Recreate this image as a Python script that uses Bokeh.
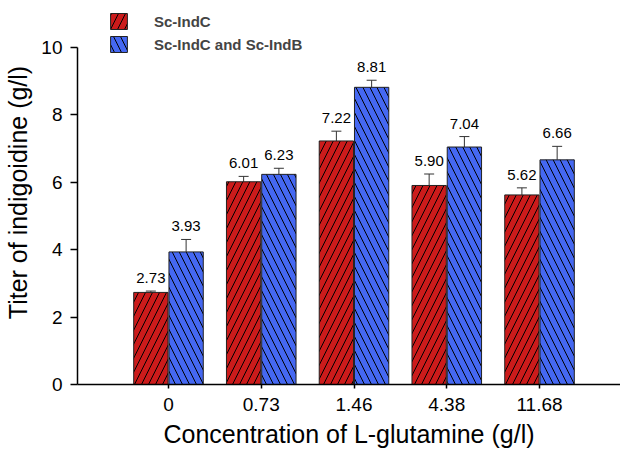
from bokeh.plotting import figure
from bokeh.models import (ColumnDataSource, Range1d, FixedTicker, Whisker, TeeHead,
                          Legend, LegendItem)
from bokeh.core.properties import value
from bokeh.embed import file_html
from bokeh.resources import INLINE

categories = ["0", "0.73", "1.46", "4.38", "11.68"]
indc = [2.73, 6.01, 7.22, 5.90, 5.62]
indc_err = [0.04, 0.16, 0.29, 0.34, 0.21]
indcb = [3.93, 6.23, 8.81, 7.04, 6.66]
indcb_err = [0.37, 0.18, 0.21, 0.31, 0.40]
y_ticks = [0, 2, 4, 6, 8, 10]

FONT = "Liberation Sans"
RED = "#cc1b1b"
BLUE = "#4568f2"

xs = list(range(len(categories)))
off = 0.19
bw = 0.37

p = figure(width=620, height=451, output_backend="svg", toolbar_location=None,
           x_range=Range1d(-0.981, 4.873), y_range=Range1d(0, 11.384),
           min_border_left=77, min_border_top=0, min_border_bottom=67, min_border_right=0)
p.outline_line_color = None
p.grid.visible = False

src1 = ColumnDataSource(dict(x=[x - off for x in xs], top=indc,
                             up=[v + e for v, e in zip(indc, indc_err)],
                             lab=["%.2f" % v for v in indc]))
src2 = ColumnDataSource(dict(x=[x + off for x in xs], top=indcb,
                             up=[v + e for v, e in zip(indcb, indcb_err)],
                             lab=["%.2f" % v for v in indcb]))

r1 = p.vbar(x="x", top="top", bottom=0, width=bw, source=src1, fill_color=RED,
            line_color="#222222", line_width=1, hatch_pattern="right_diagonal_line",
            hatch_color="black", hatch_scale=14, hatch_weight=1)
r2 = p.vbar(x="x", top="top", bottom=0, width=bw, source=src2, fill_color=BLUE,
            line_color="#222222", line_width=1, hatch_pattern="left_diagonal_line",
            hatch_color="black", hatch_scale=14, hatch_weight=1)

for src in (src1, src2):
    w = Whisker(base="x", lower="top", upper="up", source=src, dimension="height",
                line_color="#333333", line_width=1,
                upper_head=TeeHead(size=10, line_color="#333333", line_width=1),
                lower_head=None)
    p.add_layout(w)
    p.text(x="x", y="up", text="lab", source=src, text_align="center",
           text_baseline="bottom", y_offset=-8, text_font=value(FONT),
           text_font_size="15px", text_color="black")

legend = Legend(items=[LegendItem(label="Sc-IndC", renderers=[r1]),
                       LegendItem(label="Sc-IndC and Sc-IndB", renderers=[r2])],
                location=(31, 330), orientation="vertical")
legend.glyph_width = 21
legend.glyph_height = 20
legend.label_standoff = 25
legend.spacing = 3
legend.padding = 0
legend.margin = 0
legend.border_line_color = None
legend.background_fill_alpha = 0
legend.label_text_font = FONT
legend.label_text_font_style = "bold"
legend.label_text_font_size = "15px"
legend.label_height = 20
p.add_layout(legend)

xa = p.xaxis[0]
xa.ticker = FixedTicker(ticks=xs)
xa.major_label_overrides = {i: c for i, c in enumerate(categories)}
xa.axis_label = "Concentration of L-glutamine (g/l)"
ya = p.yaxis[0]
ya.ticker = FixedTicker(ticks=y_ticks)
ya.bounds = (0, 10)
ya.axis_label = "Titer of indigoidine (g/l)"

for ax in (xa, ya):
    ax.axis_line_color = "black"
    ax.axis_line_width = 1.5
    ax.major_tick_line_color = "black"
    ax.major_tick_line_width = 1.5
    ax.major_tick_in = 0
    ax.minor_tick_line_color = None
    ax.major_label_text_font = FONT
    ax.major_label_text_font_size = "19px"
    ax.major_label_text_color = "black"
    ax.axis_label_text_font = FONT
    ax.axis_label_text_font_size = "25px"
    ax.axis_label_text_font_style = "normal"
    ax.axis_label_text_color = "black"

xa.major_tick_out = 4
xa.major_label_standoff = 9
xa.axis_label_standoff = 6
ya.major_tick_out = 7
ya.major_label_standoff = 8
ya.axis_label_standoff = 6

open("out.html", "w").write(file_html(p, INLINE))
